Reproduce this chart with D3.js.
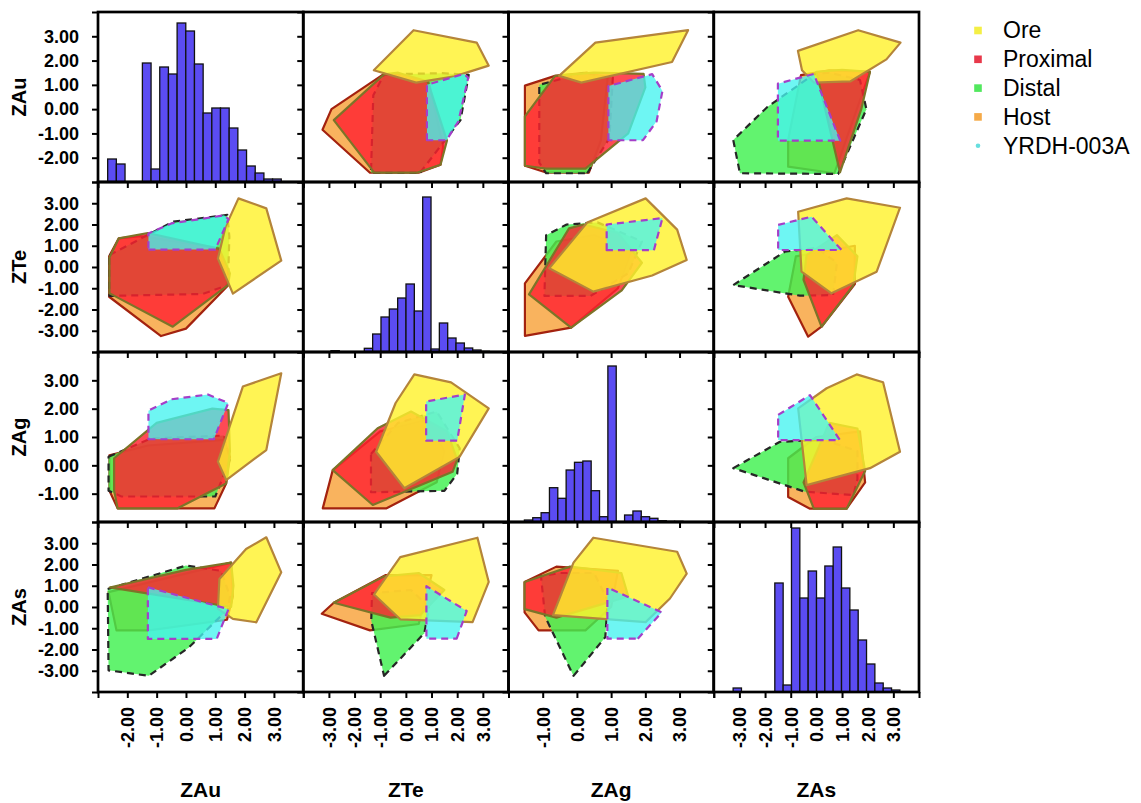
<!DOCTYPE html>
<html>
<head>
<meta charset="utf-8">
<script src="https://cdn.jsdelivr.net/npm/d3@7"></script>
<style>
  body { margin: 0; background: #fff; }
  text { font-family: "Liberation Sans", Arial, Helvetica, sans-serif; }
</style>
</head>
<body>
<svg id="chart" width="1141" height="803"></svg>
<script>
// variables and axis ranges
const variables = ["ZAu", "ZTe", "ZAg", "ZAs"];
const domains = [[-3, 4], [-4, 4], [-2, 4], [-4, 4]];
const tickLabels = [
  [-2, -1, 0, 1, 2, 3],
  [-3, -2, -1, 0, 1, 2, 3],
  [-1, 0, 1, 2, 3],
  [-3, -2, -1, 0, 1, 2, 3],
];

// groups (legend order)
const groups = ["Ore", "Proximal", "Distal", "Host", "YRDH-003A"];
const fills = ["#fff12e", "#ff2230", "#3ff04f", "#f8a23a", "#45f3f0"];
const strokes = ["#b5853a", "#7d7428", "#262626", "#a3220f", "#a53fc8"];
const dashes = [null, null, "7,5", null, "7,5"];
const legendColors = ["#f4ef45", "#e8384a", "#52e85e", "#f5aa48", "#66dede"];
const drawOrder = [3, 2, 1, 0, 4];

// convex hulls, points are [first var, second var]
const oreAuTe = [[1.79, 3.23], [2.74, 2.76], [3.25, 0.3], [1.6, -1.25], [1.09, 0.4], [1.35, 1.9]];
const proximalAuTe = [[-2.61, 0.45], [-2.29, 1.35], [-1.3, 1.6], [1.14, 0.85], [1.5, -0.3], [1.43, -0.85], [-0.45, -2.81], [-2.44, -1.36], [-2.61, -1.24]];
const distalAuTe = [[-2.61, 0.56], [-0.45, 2.13], [1.41, 2.45], [1.48, 1.43], [1.43, -0.85], [0.57, -1.27], [-2.61, -1.36]];
const hostAuTe = [[-2.29, 1.35], [-1.55, 1.45], [1.1, 0.9], [1.45, -0.85], [0.0, -2.9], [-0.85, -3.25], [-2.62, -1.4], [-2.62, 0.5]];
const yrdhAuTe = [[-1.28, 0.82], [1.0, 0.82], [1.45, 2.25], [1.3, 2.43], [-0.5, 2.05], [-1.28, 1.58]];

const oreAuAg = [[3.25, 3.25], [1.94, 2.78], [1.09, 0.13], [1.37, -0.52], [2.74, 0.54]];
const proximalAuAg = [[-2.45, 0.25], [-1.0, 1.5], [0.9, 2.0], [1.45, 1.95], [1.5, 0.5], [1.37, -0.64], [-0.3, -1.52], [-2.33, -1.52], [-2.45, -0.9]];
const distalAuAg = [[-2.64, 0.3], [-1.2, 0.95], [1.3, 1.05], [1.5, 0.2], [1.0, -1.1], [-2.2, -1.1], [-2.64, -0.9]];
const hostAuAg = [[-2.61, 0.35], [-1.3, 0.7], [1.3, 0.9], [1.5, 0.3], [1.37, -0.64], [0.97, -1.52], [-2.33, -1.52], [-2.61, -0.9]];
const yrdhAuAg = [[-1.28, 0.92], [0.95, 0.92], [1.44, 2.2], [0.75, 2.5], [-0.5, 2.33], [-1.28, 1.93]];

const oreAuAs = [[2.74, 3.28], [2.05, 2.73], [1.14, 1.32], [1.09, -0.09], [1.6, -0.56], [2.4, -0.72], [3.25, 1.63]];
const proximalAuAs = [[-2.6, 0.92], [0.0, 1.75], [1.54, 2.09], [1.62, 1.0], [1.54, 0.0]];
const distalAuAs = [[-2.67, 0.85], [0.0, 1.95], [1.2, 1.7], [1.5, 0.5], [1.43, -0.1], [0.1, -1.9], [-1.27, -3.24], [-2.64, -2.98]];
const hostAuAs = [[-2.64, 0.7], [-2.37, -1.1], [-1.27, -1.1], [1.4, -0.6], [1.6, 0.5], [1.54, 2.09]];
const yrdhAuAs = [[-1.3, 0.93], [1.45, -0.1], [1.05, -1.5], [-1.3, -1.5]];

const oreTeAg = [[0.33, 3.21], [1.76, 2.93], [3.23, 2.01], [2.09, 0.3], [-0.06, -0.81], [-1.16, 0.48], [-0.4, 2.2]];
const proximalTeAg = [[-2.85, -0.17], [-1.1, 1.31], [0.2, 1.9], [1.6, 1.2], [2.0, 0.2], [1.82, -0.23], [-1.29, -1.4]];
const distalTeAg = [[-1.36, 0.4], [-0.3, 1.5], [1.2, 1.9], [2.1, 0.6], [2.0, -0.3], [1.5, -0.9], [-1.36, -0.95]];
const hostTeAg = [[-3.24, -1.52], [-0.77, -1.52], [1.2, -0.6], [1.5, 0.5], [0.8, 1.6], [-1.0, 1.2], [-2.85, -0.17]];
const yrdhTeAg = [[0.79, 0.87], [2.0, 0.87], [2.3, 2.5], [0.79, 2.25]];

const oreTeAs = [[2.6, -0.71], [3.23, 1.18], [2.79, 3.26], [-0.22, 2.35], [-1.24, 0.59], [-0.22, -0.58]];
const proximalTeAs = [[-2.81, 0.2], [-0.85, 1.44], [0.5, 1.6], [1.5, 0.8], [0.56, -0.38], [-0.6, -0.5]];
const distalTeAs = [[-0.85, -3.24], [0.72, -1.23], [0.9, 0.0], [0.2, 0.8], [-1.32, 0.65], [-1.35, -0.64]];
const hostTeAs = [[-1.4, -1.1], [-3.28, -0.32], [-2.81, 0.2], [-0.8, 1.5], [1.0, 1.5], [0.5, -0.8]];
const yrdhTeAs = [[1.98, -1.49], [2.37, -0.19], [0.8, 0.98], [0.8, -1.49]];

const oreAgAs = [[3.21, 1.57], [2.93, 2.6], [0.48, 3.26], [-0.1, 2.09], [-0.7, -0.38], [2.01, -0.71], [2.72, 0.4]];
const proximalAgAs = [[-0.6, -0.5], [-1.53, -0.1], [-1.53, 1.18], [-0.2, 1.9], [1.3, 1.6], [1.5, 0.5]];
const distalAgAs = [[-0.1, -3.24], [0.83, -1.42], [0.9, 0.3], [0.5, 1.6], [-0.5, 1.6], [-1.05, 1.44], [-0.93, -0.45]];
const hostAgAs = [[0.25, -1.1], [-1.12, -1.1], [-1.53, -0.25], [-1.53, 1.18], [-0.6, 1.9], [1.2, 1.7], [1.0, 0.0]];
const yrdhAgAs = [[1.78, -1.49], [2.48, -0.25], [0.89, 0.92], [0.89, -1.49]];

// histograms: first bin edge, bin width, counts
const histStart = [-2.67, -2.92, -1.535, -3.245];
const histWidth = [0.296, 0.325, 0.244, 0.325];
const countsAu = [23, 18, 0, 0, 119, 13, 115, 108, 159, 151, 118, 69, 74, 74, 54, 32, 16, 9, 3, 3];
const countsTe = [1.3, 0, 0, 0, 3.7, 18, 35, 43, 54, 68, 41, 155, 3, 29, 14, 9, 4, 2, 0.7];
const countsAg = [2, 4.3, 9.3, 34.3, 23.7, 52, 59.7, 61, 31.3, 5.3, 156, 0, 7, 11, 5.3, 3.7, 1.3, 0.7, 0.7];
const countsAs = [4, 0, 0, 0, 0, 109, 7, 164, 94, 121, 94, 126, 145, 104, 82, 52, 28, 9, 4, 2];
const histCounts = [countsAu, countsTe, countsAg, countsAs];

const pairHulls = {
  "0-1": [oreAuTe, proximalAuTe, distalAuTe, hostAuTe, yrdhAuTe],
  "0-2": [oreAuAg, proximalAuAg, distalAuAg, hostAuAg, yrdhAuAg],
  "0-3": [oreAuAs, proximalAuAs, distalAuAs, hostAuAs, yrdhAuAs],
  "1-2": [oreTeAg, proximalTeAg, distalTeAg, hostTeAg, yrdhTeAg],
  "1-3": [oreTeAs, proximalTeAs, distalTeAs, hostTeAs, yrdhTeAs],
  "2-3": [oreAgAs, proximalAgAs, distalAgAs, hostAgAs, yrdhAgAs],
};

const svg = d3.select("#chart");
const gridLeft = 98, gridTop = 12, cellW = 205.25, cellH = 170;
const n = variables.length;
const fmt = (d) => d.toFixed(2);

const xScales = variables.map((v, j) =>
  d3.scaleLinear().domain(domains[j]).range([gridLeft + j * cellW, gridLeft + (j + 1) * cellW]));
const yScales = variables.map((v, i) =>
  d3.scaleLinear().domain(domains[i]).range([gridTop + (i + 1) * cellH, gridTop + i * cellH]));

const defs = svg.append("defs");
const content = svg.append("g");

for (let r = 0; r < n; r++) {
  for (let c = 0; c < n; c++) {
    const id = `clip-${r}-${c}`;
    defs.append("clipPath").attr("id", id)
      .append("rect")
      .attr("x", gridLeft + c * cellW).attr("y", gridTop + r * cellH)
      .attr("width", cellW).attr("height", cellH);
    const g = content.append("g").attr("clip-path", `url(#${id})`);

    if (r === c) {
      // histogram on the diagonal
      const x = xScales[c];
      const counts = histCounts[c];
      const yCount = d3.scaleLinear().domain([0, 170])
        .range([gridTop + (r + 1) * cellH, gridTop + r * cellH]);
      g.selectAll("rect")
        .data(counts.map((v, k) => ({ k, v })).filter((d) => d.v > 0))
        .join("rect")
        .attr("x", (d) => x(histStart[c] + d.k * histWidth[c]))
        .attr("width", (d) => x(histStart[c] + (d.k + 1) * histWidth[c]) - x(histStart[c] + d.k * histWidth[c]))
        .attr("y", (d) => yCount(d.v))
        .attr("height", (d) => yCount(0) - yCount(d.v))
        .style("fill", "#5b4cf2")
        .style("stroke", "#111")
        .style("stroke-width", 1.3);
    } else {
      const a = Math.min(r, c), b = Math.max(r, c);
      const hulls = pairHulls[`${a}-${b}`];
      const swap = c !== a;
      const line = d3.line()
        .x((p) => xScales[c](swap ? p[1] : p[0]))
        .y((p) => yScales[r](swap ? p[0] : p[1]))
        .curve(d3.curveLinearClosed);
      drawOrder.forEach((gi) => {
        g.append("path")
          .attr("d", line(hulls[gi]))
          .style("fill", fills[gi])
          .style("fill-opacity", gi === 4 ? 0.78 : 0.82)
          .style("stroke", strokes[gi])
          .style("stroke-width", 2.2)
          .style("stroke-linejoin", "round")
          .style("stroke-dasharray", dashes[gi]);
      });
    }
  }
}

// axes on every panel: ticks point out of the bottom and left edges
for (let r = 0; r < n; r++) {
  for (let c = 0; c < n; c++) {
    const ints = d3.range(domains[c][0], domains[c][1] + 1);
    const bx = svg.append("g")
      .attr("transform", `translate(0, ${gridTop + (r + 1) * cellH})`)
      .call(d3.axisBottom(xScales[c]).tickValues(ints).tickSize(6)
        .tickFormat((d) => (r === n - 1 && tickLabels[c].includes(d) ? fmt(d) : "")));
    bx.select(".domain").remove();
    bx.selectAll("line").style("stroke", "#000").style("stroke-width", 2);
    bx.selectAll("text")
      .attr("transform", "rotate(-90)")
      .attr("x", -15).attr("y", 0).attr("dy", "0.35em")
      .attr("text-anchor", "end")
      .style("font-size", "18px").style("font-weight", "bold").style("fill", "#000");

    const yInts = d3.range(domains[r][0], domains[r][1] + 1);
    const ly = svg.append("g")
      .attr("transform", `translate(${gridLeft + c * cellW}, 0)`)
      .call(d3.axisLeft(yScales[r]).tickValues(yInts).tickSize(6).tickPadding(13)
        .tickFormat((d) => (c === 0 && tickLabels[r].includes(d) ? fmt(d) : "")));
    ly.select(".domain").remove();
    ly.selectAll("line").style("stroke", "#000").style("stroke-width", 2);
    ly.selectAll("text")
      .style("font-size", "18px").style("font-weight", "bold").style("fill", "#000");
  }
}

// panel frames
for (let r = 0; r < n; r++) {
  for (let c = 0; c < n; c++) {
    svg.append("rect")
      .attr("x", gridLeft + c * cellW).attr("y", gridTop + r * cellH)
      .attr("width", cellW).attr("height", cellH)
      .style("fill", "none").style("stroke", "#000").style("stroke-width", 2.7);
  }
}

// axis titles
variables.forEach((v, i) => {
  svg.append("text")
    .attr("transform", `translate(26, ${gridTop + (i + 0.5) * cellH}) rotate(-90)`)
    .attr("text-anchor", "middle")
    .style("font-size", "20px").style("font-weight", "bold")
    .text(v);
  svg.append("text")
    .attr("x", gridLeft + (i + 0.5) * cellW)
    .attr("y", 797)
    .attr("text-anchor", "middle")
    .style("font-size", "21px").style("font-weight", "bold")
    .text(v);
});

// legend
const legend = svg.append("g").attr("transform", "translate(978, 0)");
groups.forEach((name, i) => {
  const cy = 30.5 + i * 28.8;
  if (i === 4) {
    legend.append("circle").attr("cx", 0).attr("cy", cy).attr("r", 2.3)
      .style("fill", legendColors[i]);
  } else {
    legend.append("rect").attr("x", -3.8).attr("y", cy - 3.8)
      .attr("width", 7.6).attr("height", 7.6)
      .style("fill", legendColors[i]);
  }
  legend.append("text")
    .attr("x", 25).attr("y", cy + 7.8)
    .style("font-size", "23px")
    .text(name);
});
</script>
</body>
</html>
